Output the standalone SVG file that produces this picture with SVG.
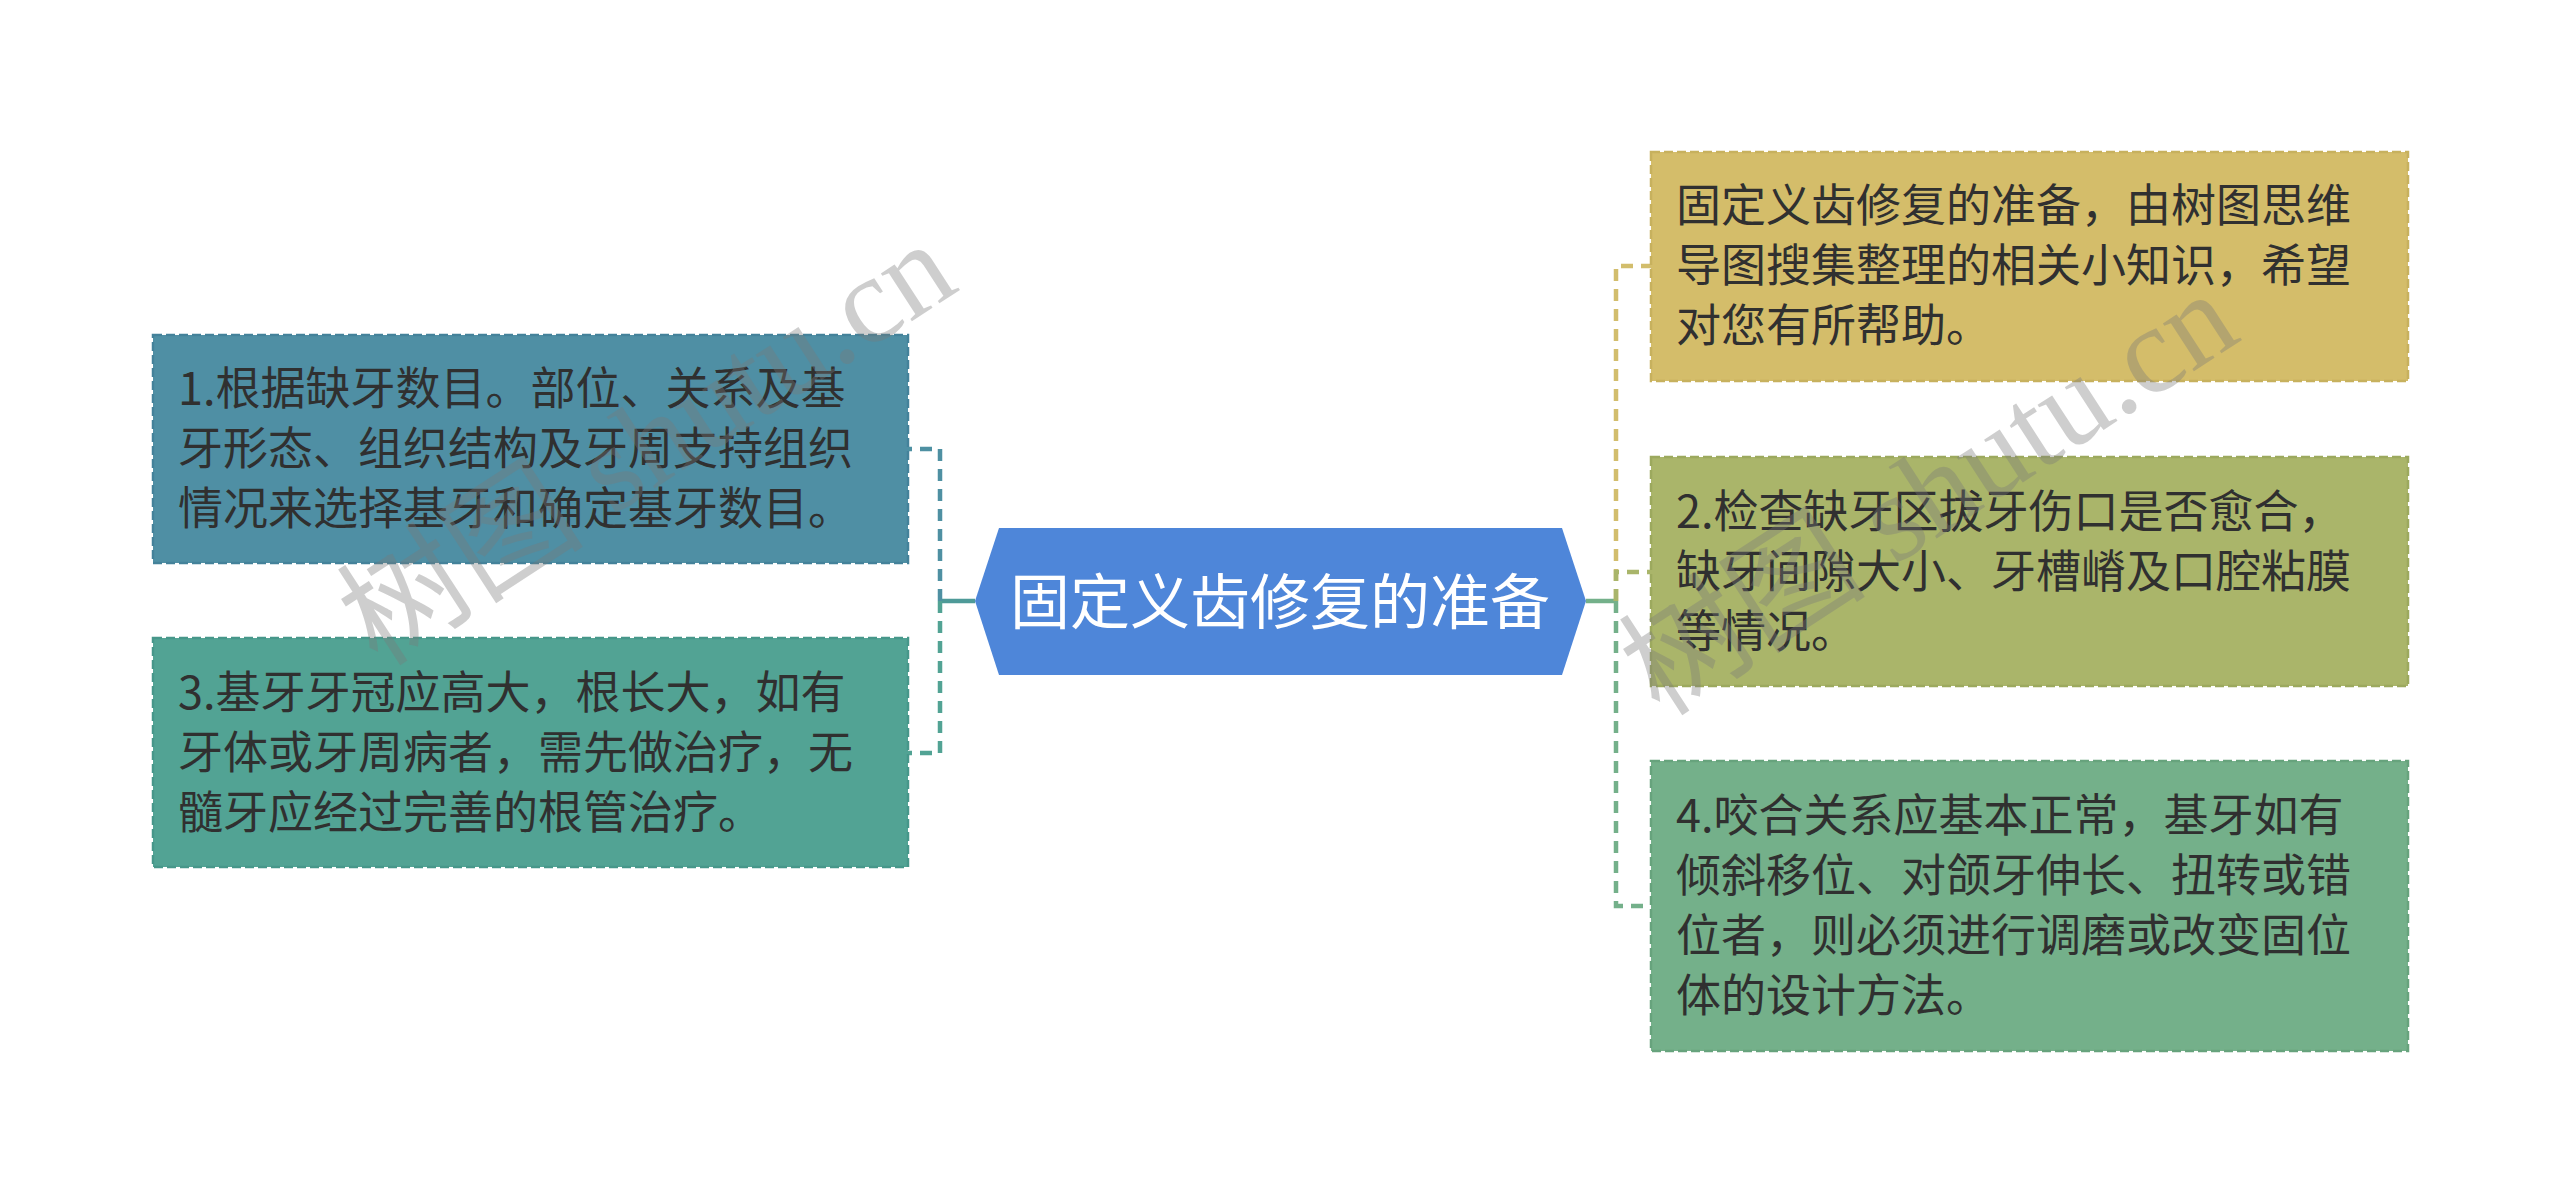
<svg xmlns="http://www.w3.org/2000/svg" width="2560" height="1204" viewBox="0 0 2560 1204">
<style>
.t{font-family:"Noto Sans CJK SC","Noto Sans",sans-serif;font-size:45px;fill:#303030}
.c{font-family:"Noto Sans CJK SC","Noto Sans",sans-serif;font-size:60px;fill:#ffffff;text-anchor:middle}
.box{stroke-width:2.5;stroke-dasharray:9 4}
.ln{fill:none;stroke-width:4.5;stroke-dasharray:12 8}
.stem{fill:none;stroke-width:4.5}
.wm{font-family:"Liberation Serif","Noto Sans CJK SC",serif;font-size:124px;fill:#7a7a7a;opacity:0.36}
</style>
<rect width="2560" height="1204" fill="#ffffff"/>
<g id="connectors">
  <path class="stem" d="M975,601 H940" stroke="#4e9a98"/>
  <path class="ln" d="M940,601 V449 H908" stroke="#4e90a2"/>
  <path class="ln" d="M940,601 V753 H908" stroke="#52a394"/>
  <path class="stem" d="M1586,601 H1616" stroke="#74b08a"/>
  <path class="ln" d="M1616,601 V266 H1651" stroke="#d2bd6c"/>
  <path class="ln" d="M1616,601 V572 H1651" stroke="#a9b56a"/>
  <path class="ln" d="M1616,601 V906 H1651" stroke="#74b08a"/>
</g>
<g id="center">
  <polygon points="975,601 999,528 1562,528 1586,601 1562,675 999,675" fill="#4e86d9"/>
  <text class="c" x="1280" y="624">固定义齿修复的准备</text>
</g>
<g id="n1">
  <rect class="box" x="153" y="335" width="755" height="228" fill="#4f8fa4" stroke="#44829a"/>
  <text class="t" x="178" y="405">1.根据缺牙数目。部位、关系及基</text>
  <text class="t" x="178" y="465">牙形态、组织结构及牙周支持组织</text>
  <text class="t" x="178" y="525">情况来选择基牙和确定基牙数目。</text>
</g>
<g id="n3">
  <rect class="box" x="153" y="638" width="755" height="229" fill="#52a394" stroke="#47978a"/>
  <text class="t" x="178" y="709">3.基牙牙冠应高大，根长大，如有</text>
  <text class="t" x="178" y="769">牙体或牙周病者，需先做治疗，无</text>
  <text class="t" x="178" y="829">髓牙应经过完善的根管治疗。</text>
</g>
<g id="nA">
  <rect class="box" x="1651" y="152" width="757" height="229" fill="#d4bd6a" stroke="#c7b15e"/>
  <text class="t" x="1676" y="222">固定义齿修复的准备，由树图思维</text>
  <text class="t" x="1676" y="282">导图搜集整理的相关小知识，希望</text>
  <text class="t" x="1676" y="342">对您有所帮助。</text>
</g>
<g id="n2">
  <rect class="box" x="1651" y="457" width="757" height="229" fill="#aab56a" stroke="#9ca95e"/>
  <text class="t" x="1676" y="528">2.检查缺牙区拔牙伤口是否愈合，</text>
  <text class="t" x="1676" y="588">缺牙间隙大小、牙槽嵴及口腔粘膜</text>
  <text class="t" x="1676" y="648">等情况。</text>
</g>
<g id="n4">
  <rect class="box" x="1651" y="761" width="757" height="290" fill="#74b08a" stroke="#67a37d"/>
  <text class="t" x="1676" y="832">4.咬合关系应基本正常，基牙如有</text>
  <text class="t" x="1676" y="892">倾斜移位、对颌牙伸长、扭转或错</text>
  <text class="t" x="1676" y="952">位者，则必须进行调磨或改变固位</text>
  <text class="t" x="1676" y="1012">体的设计方法。</text>
</g>
<g id="watermarks">
  <text class="wm" transform="translate(378,668) rotate(-33)">树图 shutu.cn</text>
  <text class="wm" transform="translate(1660,718) rotate(-33)">树图 shutu.cn</text>
</g>
</svg>
